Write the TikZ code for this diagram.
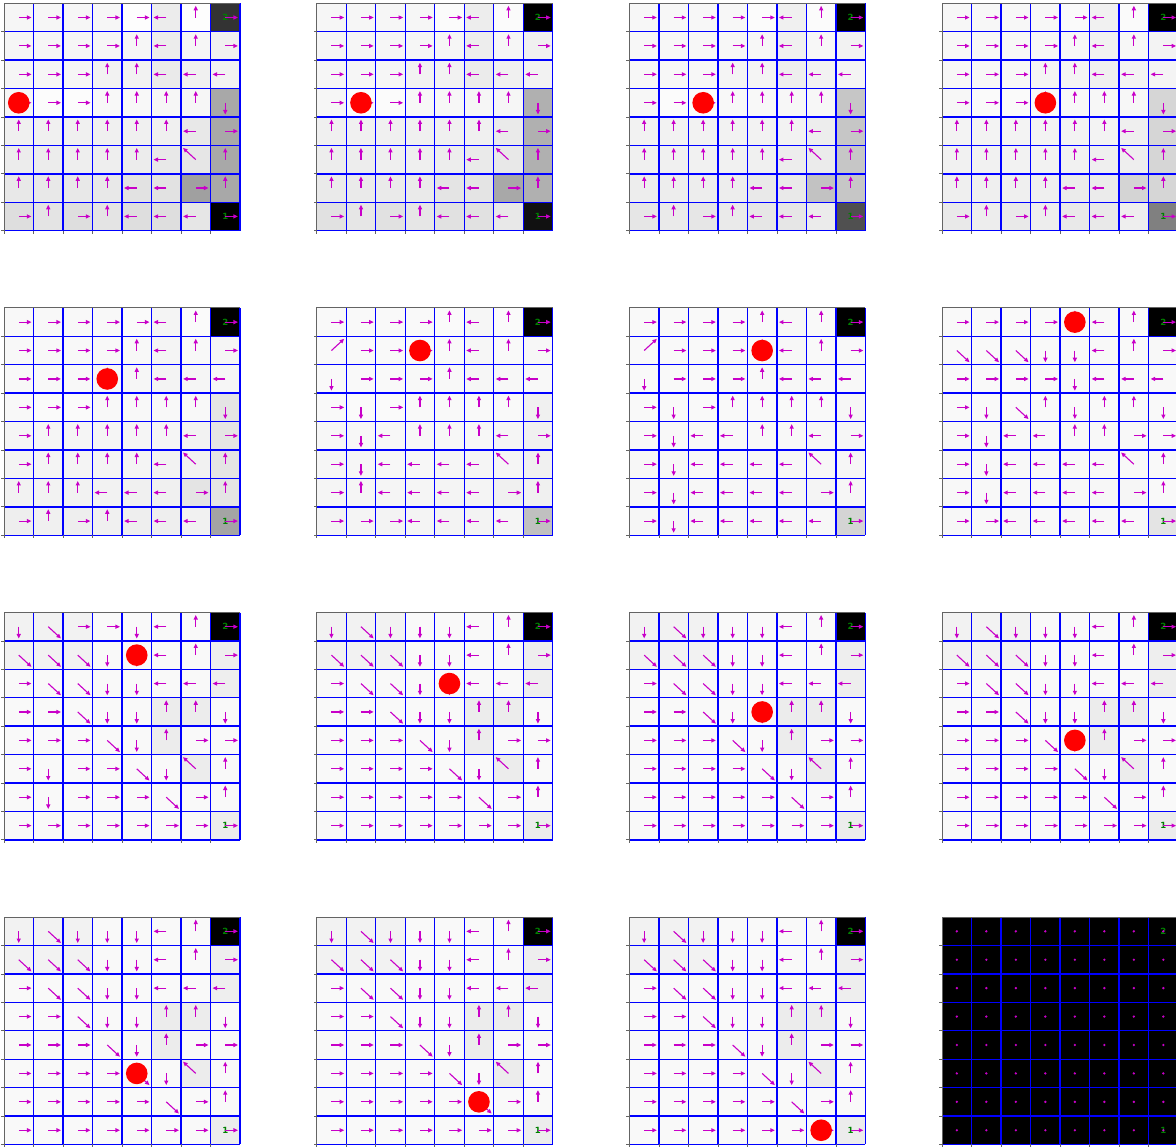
\documentclass[tikz,border=0pt]{standalone}
\usepackage{fontspec}
\setmainfont{DejaVu Sans}
\usetikzlibrary{arrows.meta}
\definecolor{qmag}{RGB}{200,0,200}
\definecolor{qgreen}{RGB}{0,128,0}
\definecolor{qblue}{RGB}{0,0,255}
\definecolor{qspine}{RGB}{100,100,100}
\def\cw{29.5}
\def\ch{28.42}
\def\qdxR{1}\def\qdyR{0}
\def\qdxL{-1}\def\qdyL{0}
\def\qdxU{0}\def\qdyU{-1}
\def\qdxD{0}\def\qdyD{1}
\def\qdxA{-1}\def\qdyA{-1}
\def\qdxB{1}\def\qdyB{1}
\def\qdxC{1}\def\qdyC{-1}
\tikzset{
 qarrow/.style={draw=qmag, line width=1.1pt, -{Triangle[length=4.5pt,width=4pt]}},
 qgrid/.style={draw=qblue, line width=1.4pt},
 qframe/.style={draw=qspine, line width=0.9pt},
 qtick/.style={draw=qspine, line width=0.8pt},
 qlab/.style={text=qgreen, font=\fontsize{8.5}{8.5}\selectfont\bfseries, inner sep=0pt},
 qdot/.style={fill=qmag},
 qball/.style={fill=red}
}
\def\gradlist{0/4/253,0/5/236,0/6/253,1/5/236,1/7/240,2/3/242,2/4/242,2/5/234,2/6/240,2/7/242,3/1/252,3/2/252,3/3/248,3/4/248,4/0/240,4/1/240,4/2/240,4/3/240,4/4/240,4/5/240,4/6/232,5/0/236,5/1/236,5/2/238,5/3/238,5/4/236,5/5/232,5/6/230,6/0/232,6/1/232,6/2/232,6/3/232,6/4/226,6/5/226,7/0/222,7/1/228,7/2/222,7/3/228,7/4/222,7/5/222,7/6/230}
\def\gridA{{R,R,R,R,R,L,U,R},{R,R,R,R,U,L,U,R},{R,R,R,U,U,L,L,L},{R,R,R,U,U,U,U,D},{U,U,U,U,U,U,L,R},{U,U,U,U,U,L,A,U},{U,U,U,U,L,L,R,U},{R,U,R,U,L,L,L,R}}
\def\gridB{{R,R,R,R,R,L,U,R},{R,R,R,R,U,L,U,R},{R,R,R,U,U,L,L,L},{R,R,R,U,U,U,U,D},{R,U,U,U,U,U,L,R},{R,U,U,U,U,L,A,U},{U,U,U,L,L,L,R,U},{R,U,R,U,L,L,L,R}}
\def\gridC{{R,R,R,R,U,L,U,R},{C,R,R,R,U,L,U,R},{D,R,R,R,U,L,L,L},{R,D,R,U,U,U,U,D},{R,D,L,U,U,U,L,R},{R,D,L,L,L,L,A,U},{R,U,L,L,L,L,R,U},{R,R,R,L,L,L,L,R}}
\def\gridD{{R,R,R,R,U,L,U,R},{C,R,R,R,U,L,U,R},{D,R,R,R,U,L,L,L},{R,D,R,U,U,U,U,D},{R,D,L,L,U,U,L,R},{R,D,L,L,L,L,A,U},{R,D,L,L,L,L,R,U},{R,D,L,L,L,L,L,R}}
\def\gridE{{R,R,R,R,U,L,U,R},{B,B,B,D,D,L,U,R},{R,R,R,R,D,L,L,L},{R,D,B,U,D,U,U,D},{R,D,L,L,U,U,R,R},{R,D,L,L,L,L,A,U},{R,D,L,L,L,L,R,U},{R,R,L,L,L,L,L,R}}
\def\gridF{{D,B,R,R,D,L,U,R},{B,B,B,D,D,L,U,R},{R,B,B,D,D,L,L,L},{R,R,B,D,D,U,U,D},{R,R,R,B,D,U,R,R},{R,D,R,R,B,D,A,U},{R,D,R,R,R,B,R,U},{R,R,R,R,R,R,R,R}}
\def\gridG{{D,B,D,D,D,L,U,R},{B,B,B,D,D,L,U,R},{R,B,B,D,D,L,L,L},{R,R,B,D,D,U,U,D},{R,R,R,B,D,U,R,R},{R,R,R,R,B,D,A,U},{R,R,R,R,R,B,R,U},{R,R,R,R,R,R,R,R}}
\def\ovlate{0/7/0,7/7/236,1/7/238,2/7/238,3/5/236,3/6/236,4/5/236,5/6/236,0/0/242,0/1/242,0/2/242,1/0/242,1/1/242,1/2/242}
\newcommand\panelbg[5]{%
  \fill[fill={rgb,255:red,#3;green,#3;blue,#3}] (#1,#2) rectangle ++({8*\cw},{8*\ch});
  \foreach \qr/\qc/\qg in \gradlist {%
    \pgfmathtruncatemacro\qgg{#3+#4*(\qg-246)}%
    \fill[fill={rgb,255:red,\qgg;green,\qgg;blue,\qgg}] ({#1+\qc*\cw},{#2+\qr*\ch}) rectangle ++(\cw,\ch);
  }%
  \edef\qovl{#5}%
  \foreach \qr/\qc/\qg in \qovl {%
    \fill[fill={rgb,255:red,\qg;green,\qg;blue,\qg}] ({#1+\qc*\cw},{#2+\qr*\ch}) rectangle ++(\cw,\ch);
  }%
}
\newcommand\panelgrid[3]{%
  \foreach \qk in {1,...,8} {%
    \draw[qgrid] ({#2+\qk*\cw},#3) -- ++(0,{8*\ch});
    \draw[qgrid] (#2,{#3+\qk*\ch}) -- ++({8*\cw},0);
  }%
  \draw[qframe] (#2,{#3+8*\ch}) -- (#2,#3) -- ({#2+8*\cw},#3);
  \foreach \qk in {1,...,8} {\draw[qtick] (#2,{#3+\qk*\ch}) -- ++(-3,0);}%
  \foreach \qk in {0,...,7} {\draw[qtick] ({#2+\qk*\cw},{#3+8*\ch}) -- ++(0,3);}%
  \node[qlab] (two#1) at ({#2+7.5*\cw},{#3+0.5*\ch}) {2};
  \node[qlab] (one#1) at ({#2+7.5*\cw},{#3+7.5*\ch}) {1};
}
\newcommand\panelarrows[3]{%
  \foreach \rowl [count=\qr from 0] in #3 {%
    \foreach \qa [count=\qc from 0] in \rowl {%
      \edef\qddx{\csname qdx\qa\endcsname}%
      \edef\qddy{\csname qdy\qa\endcsname}%
      \draw[qarrow] ({#1+(\qc+0.5)*\cw},{#2+(\qr+0.5)*\ch}) -- ++({\qddx*12.7},{\qddy*11.7});
    }%
  }%
}
\newcommand\panelball[4]{\fill[qball] ({#1+(#4+0.5)*\cw},{#2+(#3+0.5)*\ch}) circle (10.8pt);}
\newcommand\paneldots[2]{%
  \foreach \qr in {0,...,7} {\foreach \qc in {0,...,7} {%
    \fill[qdot] ({#1+(\qc+0.5)*\cw},{#2+(\qr+0.5)*\ch}) circle (1.3pt);}}%
}
\begin{document}
\begin{tikzpicture}[x=1pt,y=-1pt]
\useasboundingbox (0,0) rectangle (1176,1148);
\fill[white] (0,0) rectangle (1176,1148);
% row 1
\panelbg{4}{3.3}{246}{1}{0/7/51,7/7/0,3/7/168,4/7/168,5/7/168,6/7/168,6/6/160}
\panelgrid{1}{4}{3.3}
\panelarrows{4}{3.3}{\gridA}
\panelball{4}{3.3}{3}{0}
\panelbg{316.7}{3.3}{246}{0.85}{0/7/0,7/7/17,3/7/176,4/7/176,5/7/176,6/7/176,6/6/168}
\panelgrid{2}{316.7}{3.3}
\panelarrows{316.7}{3.3}{\gridA}
\panelball{316.7}{3.3}{3}{1}
\panelbg{629.4}{3.3}{247}{0.7}{0/7/0,7/7/80,3/7/198,4/7/198,5/7/198,6/7/198,6/6/194}
\panelgrid{3}{629.4}{3.3}
\panelarrows{629.4}{3.3}{\gridA}
\panelball{629.4}{3.3}{3}{2}
\panelbg{942.1}{3.3}{247}{0.55}{0/7/0,7/7/128,3/7/214,4/7/214,5/7/214,6/7/214,6/6/212}
\panelgrid{4}{942.1}{3.3}
\panelarrows{942.1}{3.3}{\gridA}
\panelball{942.1}{3.3}{3}{3}
% row 2
\panelbg{4}{307.9}{248}{0.4}{0/7/0,7/7/164,3/7/228,4/7/228,5/7/228,6/7/228,6/6/228}
\panelgrid{5}{4}{307.9}
\panelarrows{4}{307.9}{\gridB}
\panelball{4}{307.9}{2}{3}
\panelbg{316.7}{307.9}{249}{0.25}{0/7/0,7/7/192,3/7/240,4/7/240,5/7/240,6/7/240,6/6/240}
\panelgrid{6}{316.7}{307.9}
\panelarrows{316.7}{307.9}{\gridC}
\panelball{316.7}{307.9}{1}{3}
\panelbg{629.4}{307.9}{249}{0.12}{0/7/0,7/7/212,3/7/246,4/7/246,5/7/246,6/7/246,6/6/244}
\panelgrid{7}{629.4}{307.9}
\panelarrows{629.4}{307.9}{\gridD}
\panelball{629.4}{307.9}{1}{4}
\panelbg{942.1}{307.9}{249}{0.05}{0/7/0,7/7/228,6/6/246}
\panelgrid{8}{942.1}{307.9}
\panelarrows{942.1}{307.9}{\gridE}
\panelball{942.1}{307.9}{0}{4}
% row 3
\panelbg{4}{612.5}{249}{0}{\ovlate}
\panelgrid{9}{4}{612.5}
\panelarrows{4}{612.5}{\gridF}
\panelball{4}{612.5}{1}{4}
\panelbg{316.7}{612.5}{249}{0}{\ovlate}
\panelgrid{10}{316.7}{612.5}
\panelarrows{316.7}{612.5}{\gridG}
\panelball{316.7}{612.5}{2}{4}
\panelbg{629.4}{612.5}{249}{0}{\ovlate}
\panelgrid{11}{629.4}{612.5}
\panelarrows{629.4}{612.5}{\gridG}
\panelball{629.4}{612.5}{3}{4}
\panelbg{942.1}{612.5}{249}{0}{\ovlate}
\panelgrid{12}{942.1}{612.5}
\panelarrows{942.1}{612.5}{\gridG}
\panelball{942.1}{612.5}{4}{4}
% row 4
\panelbg{4}{917.1}{249}{0}{\ovlate}
\panelgrid{13}{4}{917.1}
\panelarrows{4}{917.1}{\gridG}
\panelball{4}{917.1}{5}{4}
\panelbg{316.7}{917.1}{249}{0}{\ovlate}
\panelgrid{14}{316.7}{917.1}
\panelarrows{316.7}{917.1}{\gridG}
\panelball{316.7}{917.1}{6}{5}
\panelbg{629.4}{917.1}{249}{0}{\ovlate}
\panelgrid{15}{629.4}{917.1}
\panelarrows{629.4}{917.1}{\gridG}
\panelball{629.4}{917.1}{7}{6}
\panelbg{942.1}{917.1}{0}{0}{0/0/0}
\panelgrid{16}{942.1}{917.1}
\paneldots{942.1}{917.1}
\end{tikzpicture}
\end{document}
